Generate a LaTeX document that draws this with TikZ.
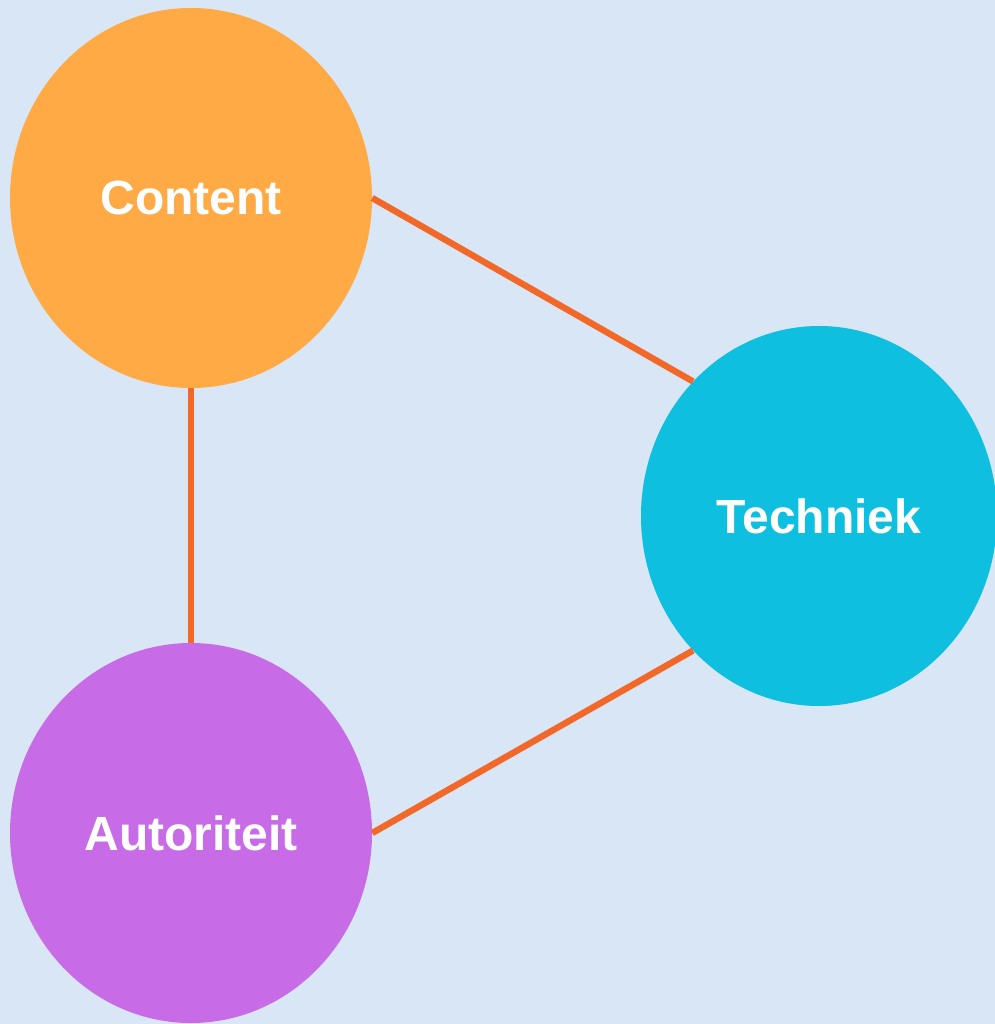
\documentclass[tikz,border=0pt]{standalone}
\usepackage{fontspec}
\setmainfont{Liberation Sans}
\usetikzlibrary{shapes.geometric}
\definecolor{bgblue}{RGB}{217,230,246}
\definecolor{contentorange}{RGB}{255,170,68}
\definecolor{technikcyan}{RGB}{14,191,223}
\definecolor{autoritpurple}{RGB}{200,107,230}
\definecolor{linkorange}{RGB}{242,104,40}
\tikzset{
  bubble/.style={ellipse, inner sep=0pt, minimum width=271.5pt, minimum height=285pt,
    text=white, font=\fontsize{36}{43}\selectfont\bfseries},
  link/.style={draw=linkorange, line width=4.8pt}
}
\begin{document}
\begin{tikzpicture}[x=0.75pt,y=0.75pt,yscale=-1,xscale=1]
%set diagram left start at 0, and has height of 1024
\useasboundingbox (0,0) rectangle (995,1024);
\clip (0,0) rectangle (995,1024);
\fill [bgblue] (0,0) rectangle (995,1024);

%Shape: Ellipse
\node [bubble, fill=contentorange] (content) at (191,198) {Content};
%Shape: Ellipse
\node [bubble, fill=technikcyan, minimum width=267pt] (techniek) at (819,516) {Techniek};
%Shape: Ellipse
\node [bubble, fill=autoritpurple] (autoriteit) at (191,833) {Autoriteit};

%Straight Lines
\draw [link] (content.east) -- (techniek.north west);
%Straight Lines
\draw [link] (content.south) -- (autoriteit.north);
%Straight Lines
\draw [link] (autoriteit.east) -- (techniek.south west);
\end{tikzpicture}
\end{document}
